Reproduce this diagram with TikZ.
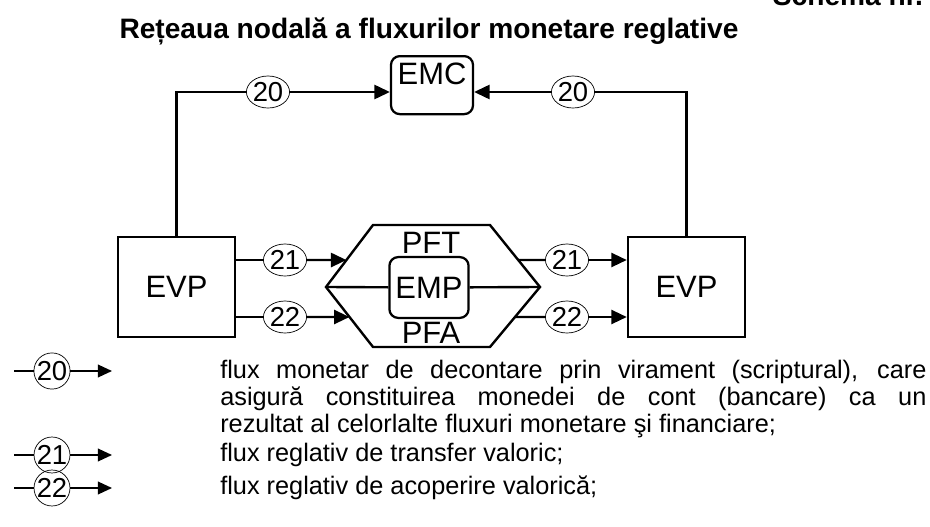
\documentclass[tikz,border=0pt]{standalone}
\usepackage{fontspec}
\setmainfont{Liberation Sans}
\usetikzlibrary{arrows.meta}
\usetikzlibrary{shapes.geometric}
\usetikzlibrary{calc}

\begin{document}
\begin{tikzpicture}[x=0.025cm, y=-0.025cm,
    evp/.style = {draw, line width=1.6pt, minimum width=2.93cm, minimum height=2.5cm, font=\fontsize{22}{24}\selectfont},
    ent/.style = {draw, line width=1.6pt, rounded corners=0.22cm, inner sep=0pt, font=\fontsize{22}{24}\selectfont},
    num/.style = {draw, ellipse, line width=0.5pt, inner sep=0pt, minimum width=0.95cm, minimum height=0.8cm, font=\fontsize{19.5}{22}\selectfont},
    key/.style = {draw, circle, line width=0.5pt, inner sep=0pt, minimum size=0.8cm, font=\fontsize{19.5}{22}\selectfont},
    lbl/.style = {inner sep=0pt, font=\fontsize{22}{24}\selectfont},
    flow/.style = {line width=1.7pt},
    tip/.style = {flow, -{Triangle[length=11pt, width=10pt]}},
    txt/.style = {anchor=base west, inner sep=0pt, text width=17.65cm, align=justify, font=\fontsize{18}{19.2}\selectfont}]
    \useasboundingbox (0,0) rectangle (930,527);
    % headings
    \node[anchor=base west, font=\fontsize{20}{24}\selectfont\bfseries] (schema) at (768,5) {Schema nr.};
    \node[anchor=base, font=\fontsize{20}{24}\selectfont\bfseries] (title) at (429,38) {Rețeaua nodală a fluxurilor monetare reglative};
    % nodes
    \node[ent, anchor=north, minimum width=2.05cm, text height=0.72cm, text depth=0.73cm] (emc) at (432,55) {EMC};
    \node[evp] (evpL) at (176.5,287) {EVP};
    \node[evp] (evpR) at (686.5,287) {EVP};
    \node[ent, minimum width=1.98cm, minimum height=1.52cm] (emp) at (429,287.5) {EMP};
    \node[lbl] (pft) at (431,243) {PFT};
    \node[lbl] (pfa) at (431,333) {PFA};
    \node[num] (c20l) at (268,92) {20};
    \node[num] (c20r) at (573,92) {20};
    \node[num] (c21l) at (285,260) {21};
    \node[num] (c22l) at (285,317) {22};
    \node[num] (c21r) at (567,260) {21};
    \node[num] (c22r) at (567,317) {22};
    % hexagon
    \coordinate (hTL) at (373,225);
    \coordinate (hTR) at (490,225);
    \coordinate (hR) at (540,287);
    \coordinate (hBR) at (490,347);
    \coordinate (hBL) at (373,347);
    \coordinate (hL) at (326,287);
    \draw[flow, line join=miter] (hTL) -- (hTR) -- (hR) -- (hBR) -- (hBL) -- (hL) -- cycle;
    \coordinate (in21) at ($(hTL)!0.565!(hL)$);
    \coordinate (in22) at ($(hL)!0.5!(hBL)$);
    \coordinate (out21) at ($(hTR)!0.565!(hR)$);
    \coordinate (out22) at ($(hR)!0.5!(hBR)$);
    \draw[flow] (hL) -- (emp);
    \draw[flow] (emp) -- (hR);
    % flows 20
    \draw[flow] (evpL.north) |- (c20l);
    \draw[tip] (c20l) -- (c20l -| emc.west);
    \draw[flow] (evpR.north) |- (c20r);
    \draw[tip] (c20r) -- (c20r -| emc.east);
    % flows 21, 22
    \draw[flow] (c21l -| evpL.east) -- (c21l);
    \draw[tip] (c21l) -- (in21);
    \draw[flow] (c22l -| evpL.east) -- (c22l);
    \draw[tip] (c22l) -- (in22);
    \draw[flow] (out21) -- (c21r);
    \draw[tip] (c21r) -- (c21r -| evpR.west);
    \draw[flow] (out22) -- (c22r);
    \draw[tip] (c22r) -- (c22r -| evpR.west);
    % legend
    \coordinate (s20) at (14,371);
    \coordinate (e20) at (112,371);
    \coordinate (s21) at (14,455);
    \coordinate (e21) at (112,455);
    \coordinate (s22) at (14,488);
    \coordinate (e22) at (112,488);
    \node[key] (k20) at (52,371) {20};
    \node[key] (k21) at (52,455) {21};
    \node[key] (k22) at (52,488) {22};
    \draw[line width=1.1pt] (s20) -- (k20);
    \draw[line width=1.1pt, -{Triangle[length=10pt, width=9pt]}] (k20) -- (e20);
    \draw[line width=1.1pt] (s21) -- (k21);
    \draw[line width=1.1pt, -{Triangle[length=10pt, width=9pt]}] (k21) -- (e21);
    \draw[line width=1.1pt] (s22) -- (k22);
    \draw[line width=1.1pt, -{Triangle[length=10pt, width=9pt]}] (k22) -- (e22);
    \node[txt] (t20) at (220,378) {flux monetar de decontare prin virament (scriptural), care\linebreak asigură constituirea monedei de cont (bancare) ca un\linebreak rezultat al celorlalte fluxuri monetare şi financiare;};
    \node[txt] (t21) at (220,461) {flux reglativ de transfer valoric;};
    \node[txt] (t22) at (220,494) {flux reglativ de acoperire valorică;};
\end{tikzpicture}
\end{document}
